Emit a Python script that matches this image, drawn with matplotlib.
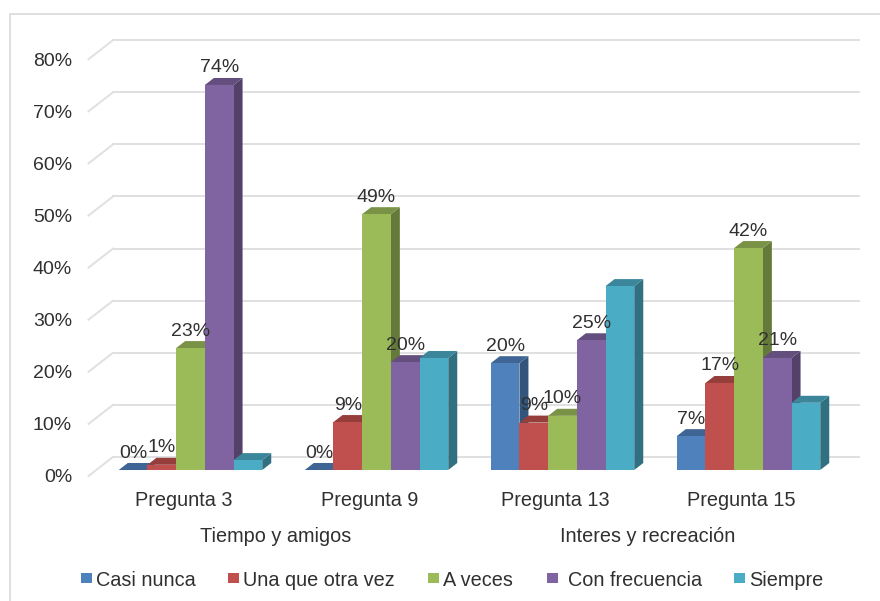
import matplotlib
matplotlib.use("Agg")
import matplotlib.pyplot as plt
from matplotlib.patches import Polygon, Rectangle
import numpy as np

plt.rcParams['font.family'] = ['Liberation Sans', 'DejaVu Sans']

preguntas = ["Pregunta 3", "Pregunta 9", "Pregunta 13", "Pregunta 15"]
grupos = ["Tiempo y amigos", "Interes y recreación"]
series = ["Casi nunca", "Una que otra vez", "A veces", "Con frecuencia", "Siempre"]
casi_nunca = [0.0, 0.0, 20.5, 6.5]
una_vez = [1.0, 9.2, 9.1, 16.7]
a_veces = [23.4, 49.1, 10.4, 42.6]
frecuencia = [73.9, 20.7, 24.9, 21.5]
siempre = [1.9, 21.5, 35.3, 12.9]
etiq_casi = ["0%", "0%", "20%", "7%"]
etiq_una = ["1%", "9%", "9%", "17%"]
etiq_aveces = ["23%", "49%", "10%", "42%"]
etiq_frec = ["74%", "20%", "25%", "21%"]
yticks = [0, 10, 20, 30, 40, 50, 60, 70, 80]

valores = [casi_nunca, una_vez, a_veces, frecuencia, siempre]
etiquetas = [etiq_casi, etiq_una, etiq_aveces, etiq_frec, None]
colores = ["#4F81BD", "#C0504D", "#9BBB59", "#8064A2", "#4BACC6"]

W, H = 880, 601
fs_num = 14
fs_txt = 14.3
tc = "#303030"

fig = plt.figure(figsize=(W/100, H/100), dpi=100, facecolor="white")

# axes = plane of the front of the bars, in pixels
left, right = 97.5, 841.5
y0, ppct = 470.0, 5.21
ax = fig.add_axes([left/W, 1-y0/H, (right-left)/W, 80*ppct/H])
ax.set_xlim(-0.5, 3.5)
ax.set_ylim(0, 80)
ax.axis("off")
pcat = (right-left)/4

def dx(p):
    return p/pcat

def dy(p):
    return p/ppct

def oscuro(c, f):
    rgb = np.array(matplotlib.colors.to_rgb(c))
    return tuple(rgb*f)

# outer frame, only top and left show
fig.add_artist(plt.Line2D([9.5/W, 9.5/W, 1], [0, 1-13.5/H, 1-13.5/H], color="#dcdcdc", lw=1.3))

# grid on back wall + left wall
grid = "#e0e0e0"
for v in yticks:
    ax.plot([-0.5+dx(15.5), 3.5+dx(17.5)], [v+dy(13), v+dy(13)], color=grid, lw=1.4, clip_on=False, zorder=1)
    ax.plot([-0.5-dx(9), -0.5+dx(15.5)], [v-dy(6), v+dy(13)], color=grid, lw=1.4, clip_on=False, zorder=1)
    ax.text(-0.5-dx(25.5), v-dy(8), f"{v}%", ha="right", va="center", fontsize=fs_num, color=tc, clip_on=False)

# bars
ancho = 28.7/pcat
prof_x, prof_y = dx(9), dy(7)
z = 2
for g in range(len(preguntas)):
    for s in range(len(series)):
        x = g + (s-2)*ancho
        v = valores[s][g]
        x1, x2 = x-ancho/2, x+ancho/2
        c = colores[s]
        top = Polygon([(x1, v), (x2, v), (x2+prof_x, v+prof_y), (x1+prof_x, v+prof_y)],
                      closed=True, fc=oscuro(c, 0.78), ec="none", clip_on=False, zorder=z)
        side = Polygon([(x2, 0), (x2+prof_x, prof_y), (x2+prof_x, v+prof_y), (x2, v)],
                       closed=True, fc=oscuro(c, 0.65), ec="none", clip_on=False, zorder=z)
        ax.add_patch(side)
        ax.add_patch(top)
        ax.bar(x, v, ancho, color=c, clip_on=False, zorder=z+0.5)
        z += 1

# labels on top of everything
for s in range(len(series)):
    if etiquetas[s] is None:
        continue
    for g in range(len(preguntas)):
        x = g + (s-2)*ancho
        ax.text(x, valores[s][g]+dy(17), etiquetas[s][g], ha="center", va="center",
                fontsize=fs_num, color=tc, zorder=200, clip_on=False)

# category labels
for g, p in enumerate(preguntas):
    ax.text(g-dx(7), -dy(30.5), p, ha="center", va="center", fontsize=fs_txt, color=tc, clip_on=False)
for i, t in enumerate(grupos):
    ax.text(0.5+2*i-dx(7.5), -dy(66.5), t, ha="center", va="center", fontsize=fs_txt, color=tc, clip_on=False)

# legend
mk_x = [81, 228, 428, 547, 734]
txt_x = [96, 243, 443, 568, 749]
for s, nombre in enumerate(series):
    fig.add_artist(Rectangle((mk_x[s]/W, 1-583/H), 10.5/W, 10.5/H, transform=fig.transFigure,
                             fc=colores[s], ec="none"))
    fig.text(txt_x[s]/W, 1-580/H, nombre, ha="left", va="center", fontsize=fs_txt, color=tc)

fig.savefig("out.png", dpi=100)
